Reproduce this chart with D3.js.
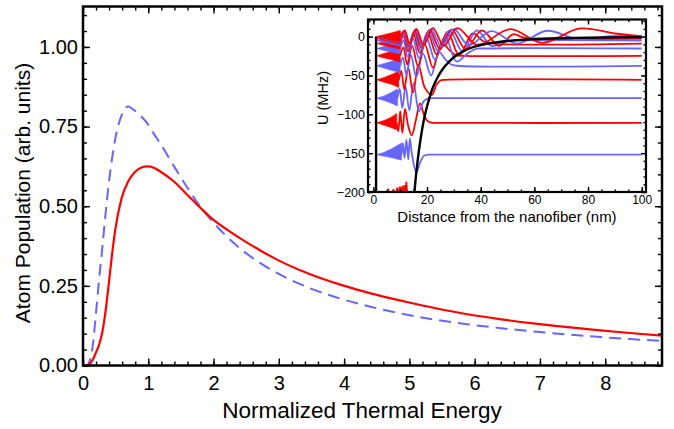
<!DOCTYPE html>
<html><head><meta charset="utf-8">
<script src="https://cdn.jsdelivr.net/npm/d3@7/dist/d3.min.js"></script>
<style>
html,body{margin:0;padding:0;background:#fff;}
svg{display:block;}
text{font-family:"Liberation Sans",Arial,Helvetica,sans-serif;fill:#000;}
</style></head>
<body>
<svg id="chart" width="674" height="429"></svg>
<script>
// ---------- main chart data ----------
const energyX = [0,0.049,0.099,0.148,0.197,0.246,0.296,0.345,0.394,0.443,0.493,0.591,0.69,0.788,0.887,0.986,1.084,1.183,1.38,1.577,1.774,1.971,2.217,2.464,2.71,2.957,3.449,3.942,4.435,4.928,5.42,5.913,6.406,6.899,7.392,7.884,8.377,8.87];
const popSolid = [0,-0.003,0.004,0.017,0.04,0.065,0.105,0.17,0.255,0.345,0.425,0.525,0.577,0.606,0.621,0.625,0.621,0.609,0.58,0.54,0.5,0.462,0.425,0.392,0.362,0.334,0.289,0.254,0.225,0.201,0.179,0.16,0.145,0.132,0.121,0.111,0.102,0.094];
const popDashed = [0,0.0,0.012,0.06,0.16,0.27,0.37,0.475,0.57,0.647,0.71,0.785,0.813,0.801,0.783,0.76,0.728,0.697,0.63,0.565,0.505,0.455,0.402,0.358,0.322,0.292,0.245,0.21,0.183,0.161,0.143,0.129,0.117,0.107,0.098,0.09,0.083,0.077];
const xTicks = [0,1,2,3,4,5,6,7,8];
const yTicks = [0,0.25,0.5,0.75,1.0];
const yTickLabels = ["0.00","0.25","0.50","0.75","1.00"];

// ---------- inset data ----------
const insetXTicks = [0,20,40,60,80,100];
const insetYTicks = [0,-50,-100,-150,-200];
const potentialX = [15.3,16,17,18,19,20,21,22,24,26,28,30,33,36,40,45,50,60,70,80,90,100];
const potentialU = [-200,-175,-146,-123,-104,-90,-78,-67,-52,-41,-33,-26.5,-20,-15,-11,-7.8,-5.7,-3.3,-2.1,-1.4,-1.0,-0.7];
const wallX = [1,1];
const wallU = [0,-200];
// energy levels of the bound states, bottom to top (red/blue alternate)
const levelU = [-210,-152,-111,-79.3,-55.6,-37.6,-24.7,-15.3,-9,-5,-2.5,-1,0];
// envelope of the unresolved fast oscillation near the fiber: [x, up, down]
const wedge0 = [];
const wedge1 = [[1.2,0,0],[4,3,2],[7,8,4],[10.5,15,7]];
const wedge2 = [[1.2,0,0],[4,3,3],[6.5,7,6],[8.7,12,9]];
const wedge3 = [[1.2,0,0],[4,3,3],[6.5,7,6],[9,12,10]];
const wedge4 = [[1.2,0,0],[4,3,3],[7,7,6],[9.5,11,10]];
const wedge5 = [[1.2,0,0],[4,3,3],[7,6,6],[10,10,9]];
const wedge6 = [[1.2,0,0],[4,3,3],[7,6,5],[10,9,8]];
const wedge7 = [[1.2,0,0],[4,2.5,2.5],[7,5,5],[10,8,7]];
const wedge8 = [[1.2,0,0],[4,2.5,2.5],[7,5,5],[10,8,7]];
const wedge9 = [[1.2,0,0],[4,2.5,2.5],[7,5,5],[10,8,7]];
const wedge10 = [[1.2,0,0],[4,2.5,2.5],[7,5,5],[10,8,7]];
const wedge11 = [[1.2,0,0],[4,2.5,2.5],[7,5,5],[10,8,7]];
const wedge12 = [[1.2,0,0],[4,2.5,2.5],[7,5,5],[10,8,7]];
// resolved part of each wave function: [x nm, U MHz]
const wave0 = [[4.8,-206],[5.6,-198],[6.3,-206],[6.9,-206],[7.5,-196.5],[8.1,-206],[8.4,-206],[8.9,-194.5],[9.4,-206],[9.5,-206],[9.9,-193],[10.35,-206],[10.4,-206],[10.8,-192.5],[11.2,-206],[11.6,-191],[12.0,-207],[12.3,-187],[12.8,-212]];
const wave1 = [[10.5,-152],[11.0,-137],[11.6,-156],[12.3,-133],[13.0,-158],[13.6,-131],[14.4,-152],[16.0,-175],[17.4,-162],[18.8,-153.5],[20.5,-152],[24,-152],[100,-152]];
const wave2 = [[8.7,-111],[9.3,-122],[10.0,-96],[10.8,-124],[11.8,-93],[13.0,-115],[14.3,-127],[15.8,-108],[17.4,-86],[18.8,-100],[20.0,-108],[21.5,-110.7],[24,-111],[100,-111]];
const wave3 = [[9,-79.3],[9.8,-67],[10.8,-92],[12.0,-64],[13.4,-95],[15.0,-60],[17.0,-96],[18.8,-83],[20.5,-79.6],[23,-79.3],[100,-79.3]];
const wave4 = [[9.5,-55.6],[10.4,-44],[11.5,-68],[13.0,-40],[14.8,-72],[16.8,-36],[19.2,-66],[21.8,-75],[23.5,-62],[25,-56.5],[27,-55.6],[100,-55.6]];
const wave5 = [[10,-37.6],[11,-27],[12.3,-49],[14,-24],[16,-52],[18.5,-22],[21.5,-50],[24.5,-20],[27,-30],[29,-36],[31,-37.5],[100,-37.6]];
const wave6 = [[10,-24.7],[11.2,-14],[12.6,-36],[14.5,-12],[16.6,-38],[19.2,-10],[22.2,-40],[25.5,-8],[28.5,-18],[31,-24],[34,-24.7],[100,-24.7]];
const wave7 = [[10,-15.3],[11.3,-5],[12.8,-26],[14.8,-3],[17,-28],[19.8,-2],[23,-30],[26.8,0],[31,-32],[35,-22],[38,-16],[42,-15.3],[100,-15.3]];
const wave8 = [[10,-9],[11.3,1],[12.9,-19],[15,3],[17.3,-21],[20.2,5],[23.6,-23],[27.6,6],[32,-24],[37,4],[41,-6],[45,-9],[100,-9]];
const wave9 = [[10,-5],[11.4,4],[13,-15],[15.2,6],[17.6,-17],[20.6,7],[24.2,-19],[28.4,8],[33.2,-19],[38.6,8],[44,-12],[49,-6],[54,-5],[100,-5]];
const wave10 = [[10,-2.5],[11.5,6],[13.1,-12],[15.4,8],[17.9,-14],[21,9],[24.8,-16],[29.2,9],[34.4,-16],[40.4,8],[46.8,-12],[52,3],[56,-1.5],[62,-2.5],[100,-2.5]];
const wave11 = [[10,-1],[11.6,7],[13.3,-10],[15.7,9],[18.3,-12],[21.5,10],[25.4,-13],[30,10],[35.5,-11],[44,7],[53.5,-9],[64.7,7.5],[76,-3],[88,0.5],[100,0.5]];
const wave12 = [[10,0],[11.7,8],[13.5,-9],[16,10],[18.8,-11],[22.2,11],[26.3,-12],[31.3,11],[38,-10],[41,-9],[51,9.7],[63,-8],[77,10.5],[90,4],[100,0.5]];

const wedges = [wedge0,wedge1,wedge2,wedge3,wedge4,wedge5,wedge6,wedge7,wedge8,wedge9,wedge10,wedge11,wedge12];
const waves = [wave0,wave1,wave2,wave3,wave4,wave5,wave6,wave7,wave8,wave9,wave10,wave11,wave12];

// ---------- drawing ----------
const RED = "#ff0000", BLUE = "#6666ff";
const svg = d3.select("#chart");
svg.append("rect").attr("width",674).attr("height",429).attr("fill","#fff");

const x = d3.scaleLinear().domain([0,8.87]).range([83,662]);
const y = d3.scaleLinear().domain([0,1.127]).range([365.5,6.5]);

const clipMain = svg.append("clipPath").attr("id","clipMain");
clipMain.append("rect").attr("x",83).attr("y",6.5).attr("width",579).attr("height",359);

const mainG = svg.append("g").attr("clip-path","url(#clipMain)");
const line = d3.line().x((d,i)=>x(energyX[i])).y(d=>y(d)).curve(d3.curveMonotoneX);
mainG.append("path").attr("d",line(popDashed)).attr("fill","none").attr("stroke",BLUE)
  .attr("stroke-width",2).attr("stroke-dasharray","12,7");
mainG.append("path").attr("d",line(popSolid)).attr("fill","none").attr("stroke",RED)
  .attr("stroke-width",2.2);

function ticksG(g){ g.selectAll(".domain").remove(); g.selectAll("line").attr("stroke","#000").attr("stroke-width",1.4); }
const minorX = d3.range(0,8.801,0.2);
const minorY = d3.range(0,1.1001,0.05);
svg.append("g").attr("transform","translate(0,365.5)")
  .call(d3.axisBottom(x).tickValues(minorX).tickSize(-4).tickFormat("")).call(ticksG);
svg.append("g").attr("transform","translate(0,365.5)")
  .call(d3.axisBottom(x).tickValues(xTicks).tickSize(-7).tickPadding(10).tickFormat(d3.format("d")))
  .call(ticksG).call(g=>g.selectAll("text").attr("font-size",20).attr("fill","#000"));
svg.append("g").attr("transform","translate(0,6.5)")
  .call(d3.axisTop(x).tickValues(minorX).tickSize(-4).tickFormat("")).call(ticksG);
svg.append("g").attr("transform","translate(0,6.5)")
  .call(d3.axisTop(x).tickValues(xTicks).tickSize(-7).tickFormat("")).call(ticksG);
svg.append("g").attr("transform","translate(83,0)")
  .call(d3.axisLeft(y).tickValues(minorY).tickSize(-4).tickFormat("")).call(ticksG);
svg.append("g").attr("transform","translate(83,0)")
  .call(d3.axisLeft(y).tickValues(yTicks).tickSize(-7).tickPadding(5).tickFormat((d,i)=>yTickLabels[i]))
  .call(ticksG).call(g=>g.selectAll("text").attr("font-size",20).attr("fill","#000"));
svg.append("g").attr("transform","translate(662,0)")
  .call(d3.axisRight(y).tickValues(minorY).tickSize(-4).tickFormat("")).call(ticksG);
svg.append("g").attr("transform","translate(662,0)")
  .call(d3.axisRight(y).tickValues(yTicks).tickSize(-7).tickFormat("")).call(ticksG);

svg.append("rect").attr("x",83).attr("y",6.5).attr("width",579).attr("height",359)
  .attr("fill","none").attr("stroke","#000").attr("stroke-width",2.5);

svg.append("text").attr("x",362).attr("y",418).attr("text-anchor","middle")
  .attr("font-size",22.5).text("Normalized Thermal Energy");
svg.append("text").attr("transform","translate(29.5,193) rotate(-90)").attr("text-anchor","middle")
  .attr("font-size",21).text("Atom Population (arb. units)");

// ---------- inset ----------
const ix = d3.scaleLinear().domain([-2,101.6]).range([368,646]);
const iy = d3.scaleLinear().domain([-200,22]).range([192,19.5]);
svg.append("rect").attr("x",368).attr("y",19.5).attr("width",278).attr("height",172.5).attr("fill","#fff");
const clipIn = svg.append("clipPath").attr("id","clipIn");
clipIn.append("rect").attr("x",368).attr("y",19.5).attr("width",278).attr("height",172.5);
const inG = svg.append("g").attr("clip-path","url(#clipIn)");

const potLine = d3.line().x((d,i)=>ix(potentialX[i])).y(d=>iy(d)).curve(d3.curveCatmullRom.alpha(0.5));
const waveLine = d3.line().x(d=>ix(d[0])).y(d=>iy(d[1])).curve(d3.curveCatmullRom.alpha(0.5));
const spikeLine = d3.line().x(d=>ix(d[0])).y(d=>iy(d[1]));

for (let i = 0; i < levelU.length; i++) {
  const col = i % 2 === 0 ? RED : BLUE;
  const L = levelU[i];
  const w = wedges[i];
  if (w.length) {
    const area = d3.area().x(d=>ix(d[0])).y0(d=>iy(L-d[2])).y1(d=>iy(L+d[1]));
    inG.append("path").attr("d",area(w)).attr("fill",col).attr("stroke",col).attr("stroke-width",0.6);
  }
  inG.append("path").attr("d",(i===0?spikeLine:waveLine)(waves[i])).attr("fill",i===0?col:"none")
    .attr("stroke",col).attr("stroke-width",1.8);
}
inG.append("path").attr("d",potLine(potentialU)).attr("fill","none").attr("stroke","#000").attr("stroke-width",2.4);
inG.append("path").attr("d",d3.line().x((d,i)=>ix(wallX[i])).y(d=>iy(d))(wallU)).attr("fill","none").attr("stroke","#000").attr("stroke-width",2.4);

const iMinorX = d3.range(0,100.01,5), iMinorY = d3.range(-200,20.01,10);
svg.append("g").attr("transform","translate(0,192)")
  .call(d3.axisBottom(ix).tickValues(iMinorX).tickSize(-2.5).tickFormat("")).call(ticksG);
svg.append("g").attr("transform","translate(0,192)")
  .call(d3.axisBottom(ix).tickValues(insetXTicks).tickSize(-5).tickPadding(3).tickFormat(d3.format("d")))
  .call(ticksG).call(g=>g.selectAll("text").attr("font-size",12).attr("fill","#000"));
svg.append("g").attr("transform","translate(0,19.5)")
  .call(d3.axisTop(ix).tickValues(iMinorX).tickSize(-2.5).tickFormat("")).call(ticksG);
svg.append("g").attr("transform","translate(0,19.5)")
  .call(d3.axisTop(ix).tickValues(insetXTicks).tickSize(-5).tickFormat("")).call(ticksG);
svg.append("g").attr("transform","translate(368,0)")
  .call(d3.axisLeft(iy).tickValues(iMinorY).tickSize(-2.5).tickFormat("")).call(ticksG);
svg.append("g").attr("transform","translate(368,0)")
  .call(d3.axisLeft(iy).tickValues(insetYTicks).tickSize(-5).tickPadding(3).tickFormat(d3.format("d")))
  .call(ticksG).call(g=>g.selectAll("text").attr("font-size",12.5).attr("fill","#000"));
svg.append("g").attr("transform","translate(646,0)")
  .call(d3.axisRight(iy).tickValues(iMinorY).tickSize(-2.5).tickFormat("")).call(ticksG);
svg.append("g").attr("transform","translate(646,0)")
  .call(d3.axisRight(iy).tickValues(insetYTicks).tickSize(-5).tickFormat("")).call(ticksG);
svg.append("rect").attr("x",368).attr("y",19.5).attr("width",278).attr("height",172.5)
  .attr("fill","none").attr("stroke","#000").attr("stroke-width",2.2);

svg.append("text").attr("x",507).attr("y",222).attr("text-anchor","middle")
  .attr("font-size",15).text("Distance from the nanofiber (nm)");
svg.append("text").attr("transform","translate(328,98) rotate(-90)").attr("text-anchor","middle")
  .attr("font-size",14.5).text("U (MHz)");
</script>
</body></html>
